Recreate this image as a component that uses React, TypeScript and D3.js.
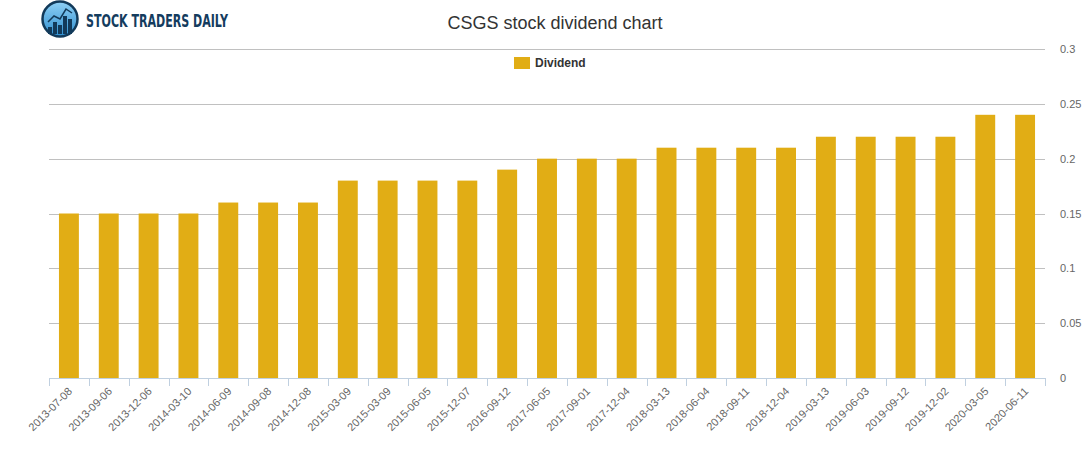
import React from "react";
import * as d3 from "d3";

const dates = [
  "2013-07-08", "2013-09-06", "2013-12-06", "2014-03-10", "2014-06-09",
  "2014-09-08", "2014-12-08", "2015-03-09", "2015-03-09", "2015-06-05",
  "2015-12-07", "2016-09-12", "2017-06-05", "2017-09-01", "2017-12-04",
  "2018-03-13", "2018-06-04", "2018-09-11", "2018-12-04", "2019-03-13",
  "2019-06-03", "2019-09-12", "2019-12-02", "2020-03-05", "2020-06-11",
];
const dividends = [
  0.15, 0.15, 0.15, 0.15, 0.16, 0.16, 0.16, 0.18, 0.18, 0.18, 0.18, 0.19,
  0.2, 0.2, 0.2, 0.21, 0.21, 0.21, 0.21, 0.22, 0.22, 0.22, 0.22, 0.24, 0.24,
];
const yTicks = [0, 0.05, 0.1, 0.15, 0.2, 0.25, 0.3];

const width = 1091;
const height = 450;
const left = 49;
const right = 1045;
const top = 49;
const bottom = 378;
const font = "'Liberation Sans', Arial, sans-serif";
const barColor = "#E1AD15";

export default function App() {
  const idx = dates.map((_, i) => i);
  const x = d3.scaleBand<number>().domain(idx).range([left, right]).paddingInner(0.5).paddingOuter(0.25);
  const y = d3.scaleLinear().domain([0, 0.3]).range([bottom, top]);
  const step = x.step();
  const tickXs = d3.range(dates.length + 1).map((i) => left + i * step);

  return (
    <svg width={width} height={height} style={{ position: "absolute", left: 0, top: 0, background: "#fff" }}>
      <defs>
        <linearGradient id="logoGrad" x1="0" y1="0" x2="0" y2="1">
          <stop offset="0%" stopColor="#8fd0f5" />
          <stop offset="100%" stopColor="#2f8fd0" />
        </linearGradient>
      </defs>
      {/* logo */}
      <g>
        <circle cx={60} cy={19} r={17.5} fill="url(#logoGrad)" stroke="#123a5a" strokeWidth={2.5} />
        {[[50, 27], [55, 22], [60, 25], [65, 16], [70, 19]].map(([bx, by], i) => (
          <rect key={i} x={bx - 2} y={by} width={4} height={34 - by} fill="#123a5a" />
        ))}
        <polyline points="48,22 54,16 60,19 66,9 72,13" fill="none" stroke="#123a5a" strokeWidth={1.5} />
        <text x={86} y={27} fontFamily="'DejaVu Sans Condensed', 'DejaVu Sans', sans-serif" fontSize={18}
          fontWeight="bold" fill="#143c5e" textLength={142} lengthAdjust="spacingAndGlyphs">STOCK TRADERS DAILY</text>
      </g>
      <text x={555} y={29} textAnchor="middle" fontFamily={font} fontSize={18} fill="#333">
        CSGS stock dividend chart
      </text>
      {/* gridlines */}
      {yTicks.map((t) => (
        <g key={t}>
          <line x1={left} x2={right} y1={Math.round(y(t)) + 0.5} y2={Math.round(y(t)) + 0.5}
            stroke={t === 0 ? "none" : "#c0c0c0"} strokeWidth={1} />
          <text x={1060} y={y(t) + 4} fontFamily={font} fontSize={11} fill="#666">{t}</text>
        </g>
      ))}
      {/* legend */}
      <rect x={514} y={57} width={16} height={12} fill={barColor} />
      <text x={535} y={67} fontFamily={font} fontSize={12} fontWeight="bold" fill="#333">Dividend</text>
      {/* bars */}
      {dividends.map((v, i) => (
        <rect key={i} x={x(i)} y={y(v)} width={x.bandwidth()} height={bottom - y(v)} fill={barColor} />
      ))}
      {/* x axis */}
      <line x1={left} x2={right} y1={bottom + 0.5} y2={bottom + 0.5} stroke="#c0d0e0" />
      {tickXs.map((tx, i) => (
        <line key={i} x1={Math.round(tx) + 0.5} x2={Math.round(tx) + 0.5} y1={bottom} y2={bottom + 8} stroke="#c0d0e0" />
      ))}
      {dates.map((d, i) => {
        const cx = (x(i) as number) + x.bandwidth() / 2 + 4;
        return (
          <text key={i} transform={`translate(${cx},${bottom + 14}) rotate(-45)`} textAnchor="end"
            fontFamily={font} fontSize={11} fill="#666">{d}</text>
        );
      })}
    </svg>
  );
}
